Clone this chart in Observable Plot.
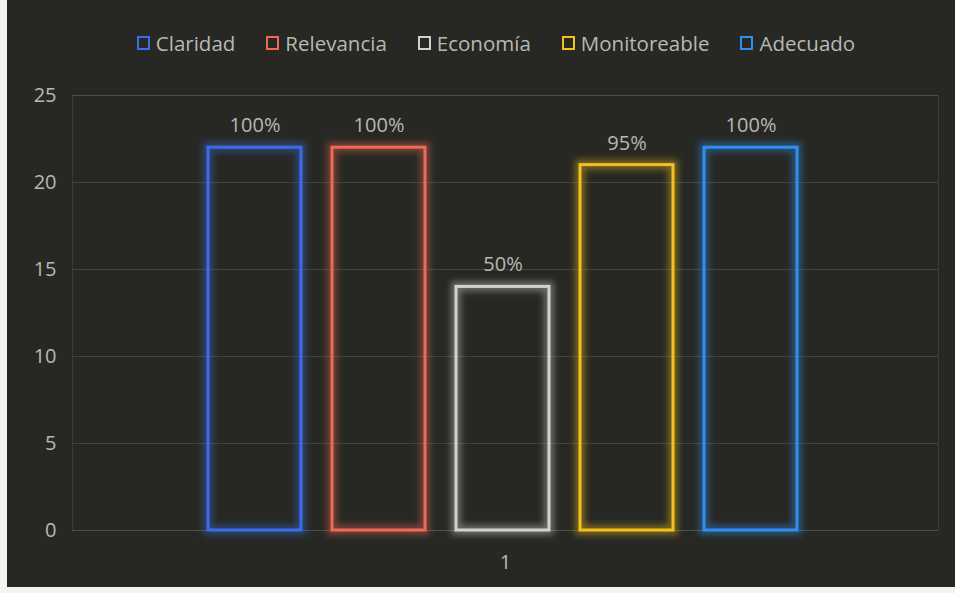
<!DOCTYPE html>
<html><head><meta charset="utf-8">
<script src="https://cdn.jsdelivr.net/npm/d3@7"></script>
<script src="https://cdn.jsdelivr.net/npm/@observablehq/plot@0.6"></script>
<style>
html,body{margin:0;padding:0;background:#f3f3f1;width:955px;height:593px;overflow:hidden}
#chart{position:absolute;left:7px;top:0;width:948px;height:587px;background:#272824;font-family:"Open Sans",sans-serif}
#legend{height:75px;display:flex;justify-content:center;align-items:center;gap:31px;color:#b8b8b2;font-size:20.5px;padding-left:30px;padding-top:10px;box-sizing:border-box}
#legend .item{display:flex;align-items:center;gap:6px}
#legend .sw{width:13px;height:14px;border:2px solid;box-sizing:border-box;display:inline-block}
#plot svg{display:block}
</style></head>
<body>
<div id="chart"><div id="legend"></div><div id="plot"></div></div>
<script>
const categories = ["1"];
const series = ["Claridad", "Relevancia", "Economía", "Monitoreable", "Adecuado"];
const values = [22, 22, 14, 21, 22];
const labels = ["100%", "100%", "50%", "95%", "100%"];
const colors = ["#3a6ee8", "#ef6a55", "#cfd3cf", "#f2c11c", "#2e8ff0"];
const yTicks = [0, 5, 10, 15, 20, 25];

const data = series.map((s, i) => ({cat: categories[0], serie: s, value: values[i], label: labels[i]}));

const legend = document.getElementById("legend");
series.forEach((s, i) => {
  const it = document.createElement("div");
  it.className = "item";
  const sw = document.createElement("span");
  sw.className = "sw";
  sw.style.borderColor = colors[i];
  const t = document.createElement("span");
  t.textContent = s;
  it.appendChild(sw); it.appendChild(t);
  legend.appendChild(it);
});

const txt = "#b8b8b2";
const chart = Plot.plot({
  width: 948,
  height: 512,
  marginTop: 20,
  marginBottom: 57,
  marginLeft: 65,
  marginRight: 17,
  style: {background: "transparent", fontFamily: "Open Sans, sans-serif"},
  fx: {domain: categories, padding: 0, label: null, axis: null},
  x: {domain: series, paddingInner: 0.25, paddingOuter: 1.103, align: 0.49, axis: null},
  y: {domain: [0, 25], label: null, axis: null},
  color: {domain: series, range: colors},
  marks: [
    Plot.gridY(yTicks, {stroke: "#6a6b64", strokeOpacity: 0.4}),
    Plot.frame({stroke: "#6a6b64", strokeOpacity: 0.3}),
    Plot.axisY(yTicks, {tickSize: 0, tickPadding: 16, fontSize: 20, fill: txt, label: null}),
    Plot.axisFx({anchor: "bottom", tickSize: 0, tickPadding: 24, fontSize: 20, fill: txt, label: null}),
    Plot.barY(data, {fx: "cat", x: "serie", y: "value", fill: "none", stroke: "serie", strokeWidth: 10, strokeOpacity: 0.4}),
    Plot.barY(data, {fx: "cat", x: "serie", y: "value", fill: "none", stroke: "serie", strokeWidth: 3}),
    Plot.text(data, {fx: "cat", x: "serie", y: "value", text: "label", dy: -22, fill: txt, fontSize: 20})
  ]
});
document.getElementById("plot").appendChild(chart);

// glow filter on the wide stroke layer
const svg = d3.select(chart);
const defs = svg.insert("defs", ":first-child");
defs.append("filter").attr("id", "glow").attr("x", "-20%").attr("y", "-20%").attr("width", "140%").attr("height", "140%")
  .append("feGaussianBlur").attr("stdDeviation", 3);
svg.select("g[aria-label='bar']").attr("filter", "url(#glow)");
</script>
</body></html>
